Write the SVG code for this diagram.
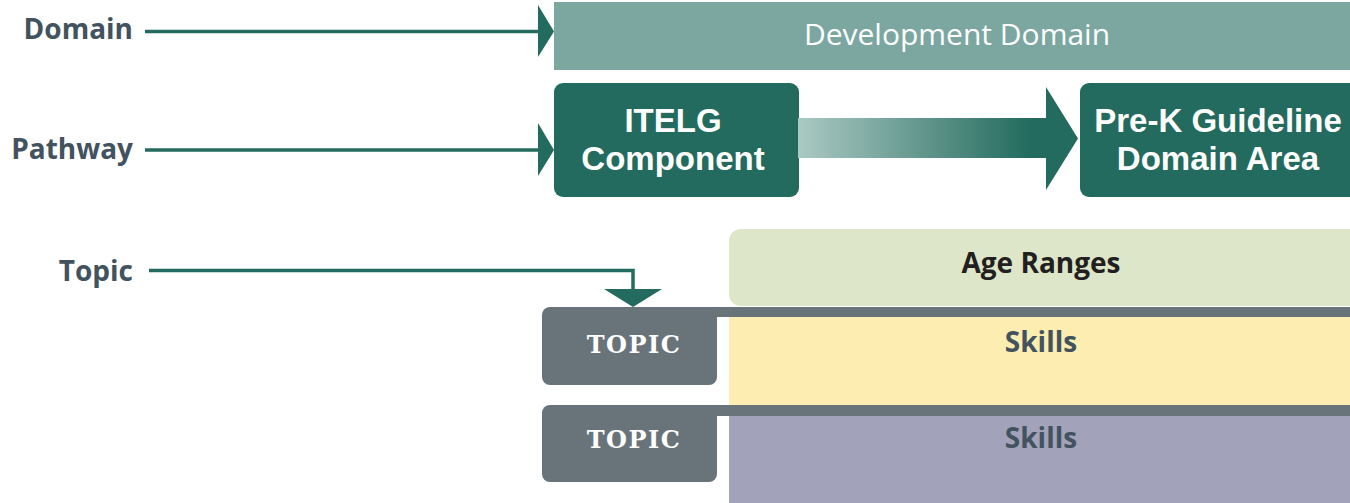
<svg xmlns="http://www.w3.org/2000/svg" width="1350" height="503" viewBox="0 0 1350 503">
  <style>
    .lbl { font-family: "Open Sans", "Liberation Sans", sans-serif; font-weight: 700; font-size: 28px; fill: #42525e; text-anchor: end; }
    .title { font-family: "Liberation Sans", "Open Sans", sans-serif; font-weight: 700; font-size: 33px; fill: #ffffff; text-anchor: middle; }
    .dev { font-family: "Open Sans", "Liberation Sans", sans-serif; font-weight: 400; font-size: 30px; fill: #ffffff; text-anchor: middle; }
    .row { font-family: "Open Sans", "Liberation Sans", sans-serif; font-weight: 700; font-size: 28px; text-anchor: middle; }
    .topic { font-family: "DejaVu Serif", "Liberation Serif", serif; font-weight: 700; font-size: 24px; fill: #ffffff; text-anchor: middle; letter-spacing: 1.5px; }
    .conn { stroke: #236b5e; stroke-width: 3.5; fill: none; }
    .head { fill: #236b5e; }
    .dark { fill: #236b5e; }
    .grey { fill: #69747a; }
  </style>
  <defs>
    <linearGradient id="shaft" gradientUnits="userSpaceOnUse" x1="798" y1="0" x2="1030" y2="0">
      <stop offset="0" stop-color="#abc9c3"/>
      <stop offset="1" stop-color="#236b5e"/>
    </linearGradient>
  </defs>

  <g id="labels">
    <text class="lbl" x="133" y="39">Domain</text>
    <text class="lbl" x="133" y="159">Pathway</text>
    <text class="lbl" x="133" y="281">Topic</text>
  </g>

  <g id="domain-box">
    <rect x="554" y="2" width="800" height="68" fill="#7ba7a0"/>
    <text class="dev" x="957" y="45">Development Domain</text>
  </g>

  <g id="itelg">
    <rect class="dark" x="554" y="83" width="245" height="114" rx="9"/>
    <text class="title" x="673" y="132">ITELG</text>
    <text class="title" x="673" y="170">Component</text>
  </g>

  <g id="prek">
    <rect class="dark" x="1080" y="83" width="290" height="114" rx="9"/>
    <text class="title" x="1218" y="132">Pre-K Guideline</text>
    <text class="title" x="1218" y="170">Domain Area</text>
  </g>

  <g id="age-ranges">
    <rect x="729" y="229" width="640" height="77" rx="12" fill="#dee6c9"/>
    <text class="row" x="1041" y="273" fill="#231f20">Age Ranges</text>
  </g>

  <g id="skills-1">
    <rect x="729" y="317" width="621" height="88" fill="#feedb0"/>
    <rect class="grey" x="690" y="307" width="660" height="10"/>
    <text class="row" x="1041" y="352" fill="#42535f">Skills</text>
  </g>

  <g id="skills-2">
    <rect x="729" y="416" width="621" height="87" fill="#a2a2ba"/>
    <rect class="grey" x="690" y="405" width="660" height="11"/>
    <text class="row" x="1041" y="448" fill="#42535f">Skills</text>
  </g>

  <g id="topic-1">
    <rect class="grey" x="542" y="307" width="175" height="78" rx="8"/>
    <text class="topic" x="634" y="353">TOPIC</text>
  </g>

  <g id="topic-2">
    <rect class="grey" x="542" y="405" width="175" height="77" rx="8"/>
    <text class="topic" x="634" y="448">TOPIC</text>
  </g>

  <g id="connectors">
    <line class="conn" x1="145" y1="31.5" x2="540" y2="31.5"/>
    <polygon class="head" points="538,5 554,31.5 538,57"/>
    <line class="conn" x1="145" y1="150" x2="540" y2="150"/>
    <polygon class="head" points="538,123 554,150 538,176"/>
    <polyline class="conn" points="149,270.5 633,270.5 633,290"/>
    <polygon class="head" points="604,289 662,289 633,307"/>
    <polygon fill="url(#shaft)" points="798,118 1046,118 1046,87 1078,138.5 1046,190 1046,158 798,158"/>
  </g>
</svg>
